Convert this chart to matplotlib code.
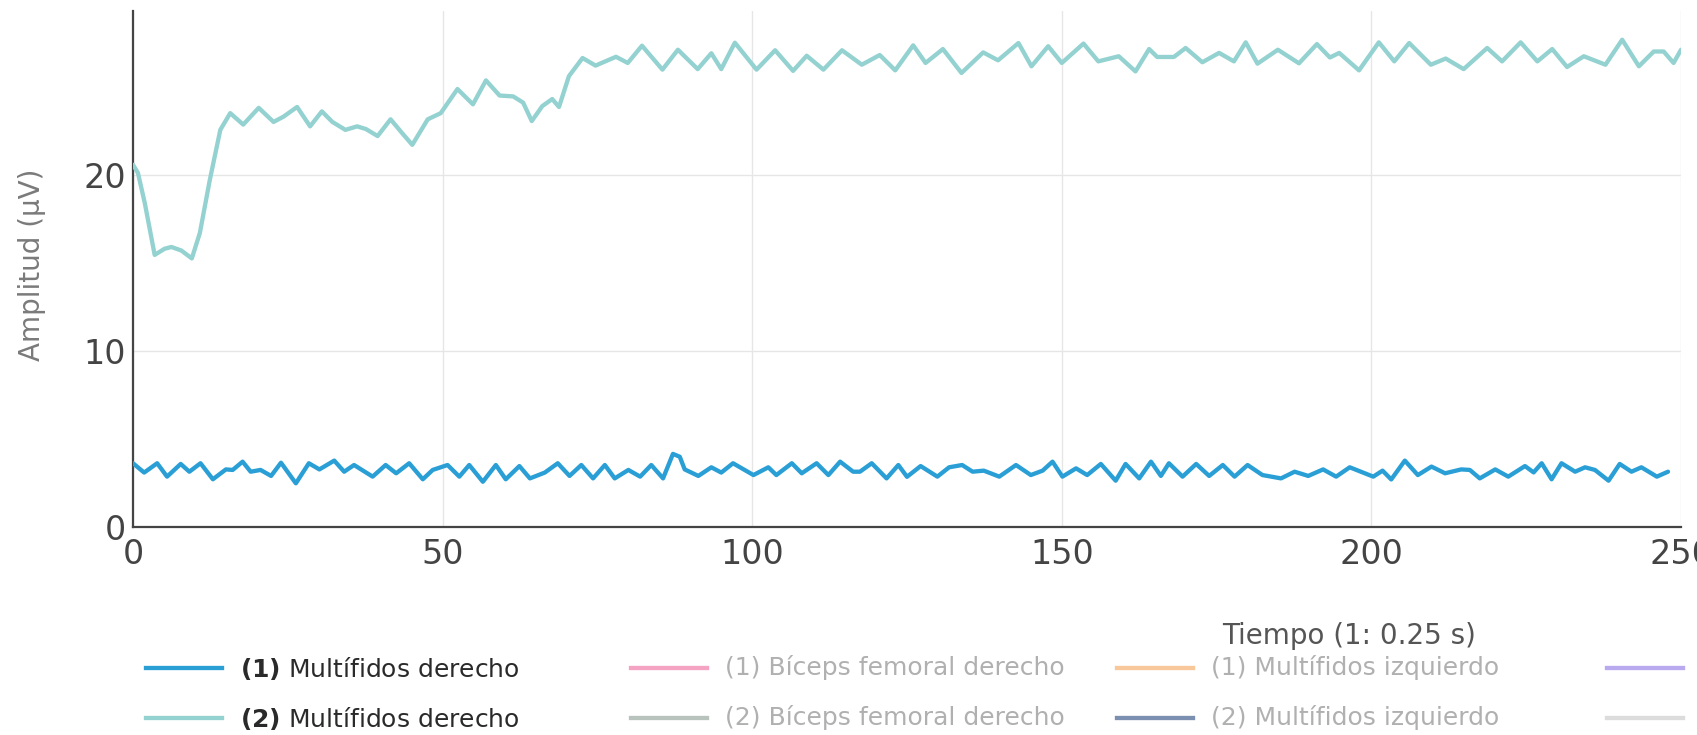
import matplotlib
matplotlib.use('Agg')
import matplotlib.pyplot as plt
from matplotlib.lines import Line2D

plt.rcParams['font.family'] = ['DejaVu Sans']

# (2) Multifidos derecho - teal trace
teal_x = [0, 0.8, 1.9, 3.5, 5.1, 6.2, 7.8, 9.5, 10.8, 12.4, 14.1, 15.7, 17.8, 20.3, 22.7, 24.3,
          26.5, 28.6, 30.5, 32.2, 34.3, 36.2, 37.6, 39.5, 41.6, 43.5, 45.1, 47.6, 49.7, 52.4,
          54.9, 57.0, 59.2, 61.4, 63.0, 64.4, 66.1, 67.7, 68.8, 70.4, 72.6, 74.7, 78.0, 79.9,
          82.2, 85.5, 88.0, 91.2, 93.4, 95.0, 97.2, 100.7, 103.7, 106.6, 108.8, 111.5, 114.5,
          117.7, 120.6, 123.1, 126.0, 128.0, 130.8, 133.8, 137.3, 139.7, 143.0, 145.1, 147.8,
          150.0, 153.5, 155.9, 159.2, 161.9, 164.1, 165.4, 168.1, 170.0, 172.7, 175.4, 177.8,
          179.7, 181.6, 184.9, 188.3, 191.2, 193.3, 194.8, 198.0, 201.2, 203.7, 206.1, 209.6,
          212.0, 214.9, 218.7, 221.1, 224.1, 226.8, 229.2, 231.6, 234.3, 237.8, 240.5, 243.2,
          245.6, 247.2, 248.8, 250]
teal_y = [20.57, 20.1, 18.4, 15.45, 15.8, 15.9, 15.7, 15.25, 16.7, 19.7, 22.55, 23.5, 22.85,
          23.8, 23.0, 23.3, 23.85, 22.75, 23.6, 23.0, 22.55, 22.75, 22.6, 22.2, 23.15, 22.35,
          21.7, 23.15, 23.5, 24.87, 24.0, 25.36, 24.5, 24.45, 24.1, 23.05, 23.9, 24.3, 23.85,
          25.6, 26.63, 26.2, 26.7, 26.35, 27.33, 25.97, 27.1, 26.0, 26.9, 26.0, 27.5, 25.97,
          27.07, 25.9, 26.76, 25.97, 27.07, 26.25, 26.8, 25.93, 27.35, 26.35, 27.14, 25.78,
          26.95, 26.5, 27.48, 26.16, 27.3, 26.35, 27.45, 26.44, 26.73, 25.87, 27.14, 26.69,
          26.69, 27.2, 26.39, 26.92, 26.44, 27.52, 26.31, 27.1, 26.33, 27.42, 26.66, 26.92,
          25.93, 27.52, 26.44, 27.48, 26.25, 26.6, 26.0, 27.2, 26.44, 27.52, 26.44, 27.14,
          26.12, 26.73, 26.25, 27.67, 26.16, 27.0, 27.0, 26.35, 27.1]

# (1) Multifidos derecho - blue trace
blue_x = [0, 1.8, 3.9, 5.5, 7.7, 9.1, 10.9, 12.9, 15.0, 16.1, 17.7, 19.0, 20.6, 22.3, 23.9,
          26.3, 28.4, 30.1, 32.5, 34.1, 35.7, 38.7, 40.8, 42.5, 44.6, 46.8, 48.4, 50.8, 52.7,
          54.3, 56.5, 58.6, 60.2, 62.4, 64.1, 66.5, 68.6, 70.5, 72.4, 74.3, 76.2, 77.8, 80.0,
          81.9, 83.7, 85.6, 87.2, 88.3, 89.1, 91.3, 93.4, 95.0, 96.9, 100.2, 102.6, 103.9,
          106.4, 108.0, 110.4, 112.3, 114.2, 116.3, 117.4, 119.3, 121.7, 123.6, 125.0, 127.2,
          129.9, 131.8, 133.9, 135.6, 137.4, 139.9, 142.6, 145.0, 146.9, 148.5, 150.1, 152.3,
          154.1, 156.3, 158.7, 160.3, 162.5, 164.4, 166.0, 167.3, 169.5, 171.7, 173.8, 176.0,
          177.9, 180.0, 182.4, 185.4, 187.6, 189.8, 192.2, 194.3, 196.5, 200.3, 201.8, 203.2,
          205.4, 207.5, 209.7, 211.9, 214.5, 215.9, 217.5, 220.0, 222.1, 224.8, 226.2, 227.5,
          229.1, 230.7, 232.9, 234.5, 236.1, 238.3, 240.1, 242.0, 243.6, 246.1, 247.9]
blue_y = [3.62, 3.09, 3.62, 2.86, 3.58, 3.14, 3.62, 2.71, 3.27, 3.24, 3.71, 3.14, 3.24, 2.9,
          3.65, 2.48, 3.62, 3.27, 3.77, 3.14, 3.52, 2.86, 3.52, 3.05, 3.62, 2.71, 3.24, 3.52,
          2.86, 3.52, 2.57, 3.52, 2.71, 3.46, 2.76, 3.09, 3.62, 2.9, 3.52, 2.76, 3.52, 2.76,
          3.24, 2.86, 3.52, 2.76, 4.15, 3.99, 3.27, 2.9, 3.39, 3.09, 3.62, 2.95, 3.39, 2.95,
          3.62, 3.05, 3.62, 2.95, 3.71, 3.14, 3.14, 3.62, 2.76, 3.52, 2.85, 3.46, 2.86, 3.39,
          3.52, 3.14, 3.2, 2.86, 3.52, 2.95, 3.2, 3.71, 2.86, 3.33, 2.95, 3.58, 2.63, 3.58,
          2.76, 3.71, 2.9, 3.62, 2.86, 3.58, 2.9, 3.52, 2.86, 3.52, 2.95, 2.76, 3.14, 2.9,
          3.27, 2.86, 3.39, 2.86, 3.2, 2.7, 3.77, 2.95, 3.43, 3.05, 3.27, 3.24, 2.76, 3.27,
          2.86, 3.46, 3.1, 3.62, 2.71, 3.62, 3.14, 3.39, 3.24, 2.63, 3.58, 3.14, 3.39, 2.86,
          3.14]

x_ticks = [0, 50, 100, 150, 200, 250]
y_ticks = [0, 10, 20]

# last column is cut off by the screenshot edge: only its line samples show
legend_rows = [
    ['(1) Multífidos derecho', '(1) Bíceps femoral derecho', '(1) Multífidos izquierdo', None],
    ['(2) Multífidos derecho', '(2) Bíceps femoral derecho', '(2) Multífidos izquierdo', None],
]
legend_colors = [
    ['#2a9fd6', '#f4a3c3', '#f8c89a', '#b9a9ef'],
    ['#93d2d0', '#b9c3bd', '#7b8fb0', '#dcdcdc'],
]

W, H = 1697, 735
fig = plt.figure(figsize=(W / 100, H / 100), dpi=100)
ax = fig.add_axes([133 / W, 1 - 527 / H, (1681 - 133) / W, (527 - 11) / H])

ax.plot(teal_x, teal_y, color=legend_colors[1][0], lw=3.1, solid_joinstyle='round',
        solid_capstyle='round', zorder=3)
ax.plot(blue_x, blue_y, color=legend_colors[0][0], lw=3.1, solid_joinstyle='round',
        solid_capstyle='round', zorder=4)

ax.set_xlim(0, 250)
ax.set_ylim(0, 29.3)
ax.set_xticks(x_ticks)
ax.set_yticks(y_ticks)
ax.grid(True, color='#e6e6e6', lw=1)
ax.set_axisbelow(True)
ax.tick_params(length=0, labelsize=24, labelcolor='#444444')
ax.tick_params(axis='x', pad=8)
ax.tick_params(axis='y', pad=5)
for s in ['top', 'right']:
    ax.spines[s].set_visible(False)
for s in ['left', 'bottom']:
    ax.spines[s].set_color('#444444')
    ax.spines[s].set_linewidth(1.6)
ax.spines['bottom'].set_zorder(5)

fig.text(32 / W, 1 - 265 / H, 'Amplitud (μV)', rotation=90, ha='center', va='center',
         fontsize=20, color='#7a7a7a')
fig.text(1349 / W, 1 - 636 / H, 'Tiempo (1: 0.25 s)', ha='center', va='center',
         fontsize=20, color='#555555')

# legend, drawn by hand to keep the fixed column widths
col_x = [146, 631, 1117, 1607]
row_y = [668, 718]
for r, names in enumerate(legend_rows):
    for c, name in enumerate(names):
        x0 = col_x[c]
        y = 1 - row_y[r] / H
        fig.add_artist(Line2D([x0 / W, (x0 + 76) / W], [y, y], transform=fig.transFigure,
                              color=legend_colors[r][c], lw=3.1))
        if name is None:
            continue
        if c == 0:
            label = r'$\mathbf{' + name[:3] + '}$' + name[3:]
            tcol = '#2a2a2a'
        else:
            label = name
            tcol = '#b0b0b0'
        fig.text((x0 + 94) / W, y, label, ha='left', va='center', fontsize=18, color=tcol)

fig.savefig('out.png', dpi=100)
